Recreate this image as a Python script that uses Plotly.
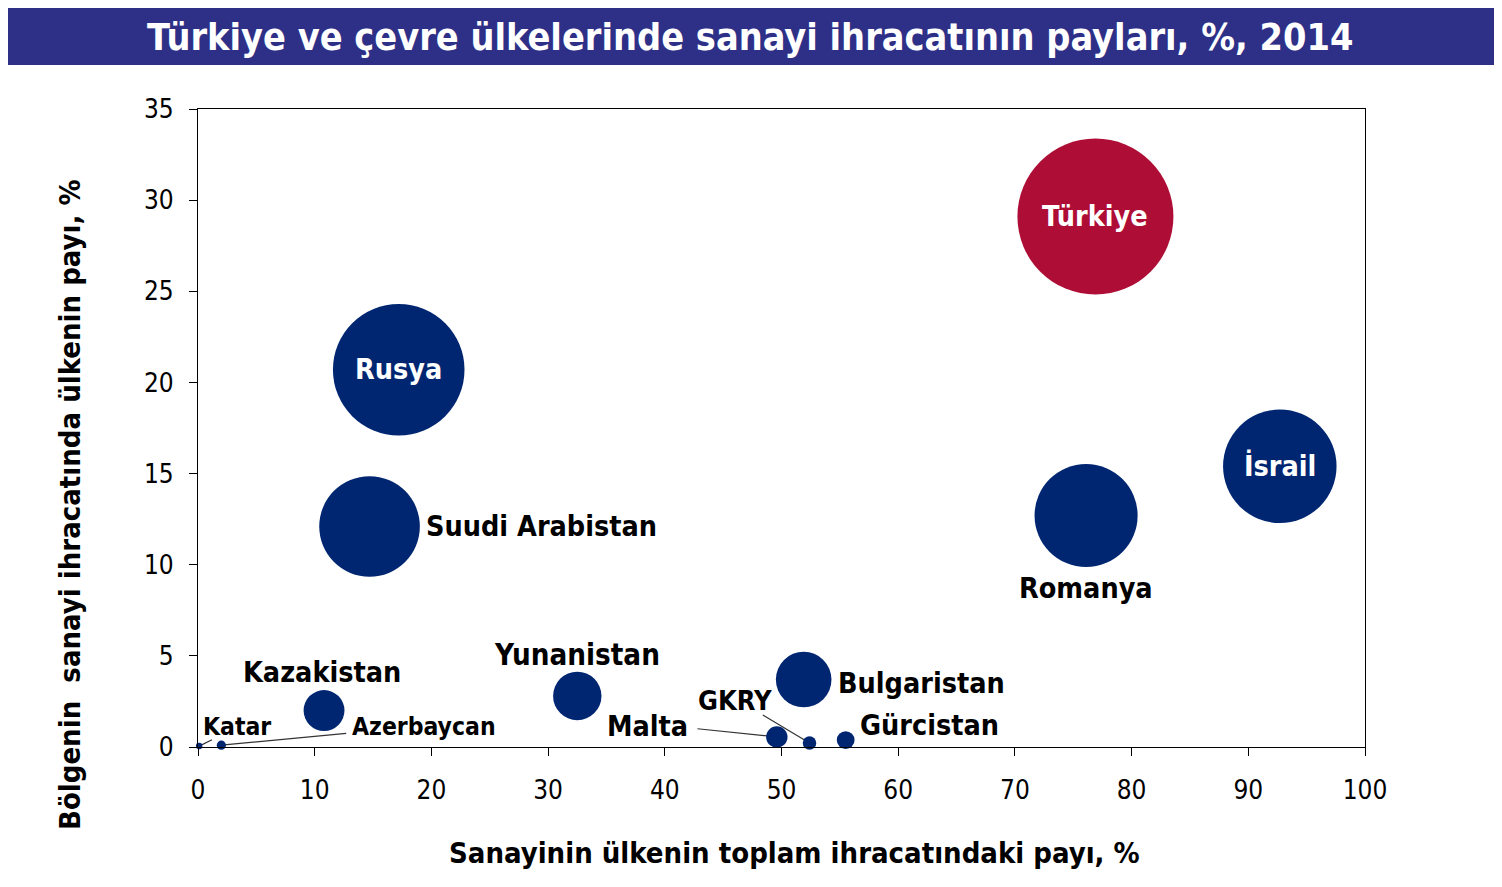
import plotly.graph_objects as go

countries = ["Türkiye", "Rusya", "İsrail", "Romanya", "Suudi Arabistan", "Bulgaristan",
             "Yunanistan", "Kazakistan", "Malta", "GKRY", "Gürcistan", "Azerbaycan", "Katar"]
industry_share_of_exports = [76.9, 17.2, 92.7, 76.1, 14.7, 51.9, 32.5, 10.8, 49.6, 52.4, 55.5, 2.0, 0.1]
regional_share = [29.1, 20.7, 15.4, 12.7, 12.1, 3.7, 2.8, 2.0, 0.55, 0.22, 0.38, 0.10, 0.05]
bubble_size = [29.1, 20.7, 15.4, 12.7, 12.1, 3.7, 2.8, 2.0, 0.55, 0.22, 0.38, 0.10, 0.05]
x_ticks = [0, 10, 20, 30, 40, 50, 60, 70, 80, 90, 100]
y_ticks = [0, 5, 10, 15, 20, 25, 30, 35]

NAVY = "#002672"
RED = "#AE0D36"
FONT = "'DejaVu Sans Condensed', 'DejaVu Sans', sans-serif"

W, H = 1494, 879
ML, MR, MT, MB = 190, 137, 101, 140
PW, PH = W - ML - MR, H - MT - MB


def px_x(px):
    # page pixel -> paper fraction (page has 8px body margin)
    return (px - 8 - ML) / PW


def px_y(py):
    return (H - MB - (py - 8)) / PH


colors = [RED if c == "Türkiye" else NAVY for c in countries]
max_diam = 156
sizeref = 2 * max(bubble_size) / (max_diam ** 2)

fig = go.Figure()
fig.add_trace(go.Scatter(
    x=industry_share_of_exports, y=regional_share, mode="markers",
    marker=dict(size=bubble_size, sizemode="area", sizeref=sizeref, color=colors,
                opacity=1, line=dict(width=0)),
    text=countries, hoverinfo="text", showlegend=False, cliponaxis=False,
))

idx = {c: i for i, c in enumerate(countries)}
labels = [
    ("Türkiye", None, None, "center", "white", 28.5),
    ("Rusya", None, None, "center", "white", 28.5),
    ("İsrail", None, None, "center", "white", 28.5),
    ("Romanya", 76.1, 8.7, "center", "black", 28.5),
    ("Suudi Arabistan", 19.35, 12.1, "left", "black", 28.5),
    ("Yunanistan", 32.5, 5.05, "center", "black", 29.3),
    ("Kazakistan", 10.6, 4.1, "center", "black", 28.5),
    ("Bulgaristan", 54.65, 3.5, "left", "black", 28.5),
    ("Gürcistan", 56.55, 1.2, "left", "black", 28.5),
    ("GKRY", 46.0, 2.55, "center", "black", 27),
    ("Malta", 42.2, 1.15, "right", "black", 28.5),
    ("Katar", 0.25, 1.15, "left", "black", 24.5),
    ("Azerbaycan", 13.0, 1.1, "left", "black", 24.5),
]
for name, lx, ly, xa, col, fs in labels:
    i = idx[name]
    if lx is None:
        lx, ly = industry_share_of_exports[i], regional_share[i]
    fig.add_annotation(x=lx, y=ly, xref="x", yref="y", text=name, showarrow=False,
                       xanchor=xa, yanchor="middle",
                       font=dict(family=FONT, size=fs, color=col, weight="bold"))

leaders = [
    ("Katar", 1.2, 0.4),
    ("Azerbaycan", 12.7, 0.75),
    ("Malta", 42.8, 1.0),
    ("GKRY", 48.4, 1.75),
]
for name, sx, sy in leaders:
    i = idx[name]
    fig.add_shape(type="line", xref="x", yref="y", x0=sx, y0=sy,
                  x1=industry_share_of_exports[i], y1=regional_share[i],
                  line=dict(color="#333333", width=1.2), layer="below")

# title bar
fig.add_shape(type="rect", xref="paper", yref="paper", x0=px_x(0), x1=px_x(1510),
              y0=px_y(65), y1=px_y(5),
              fillcolor="#2E3088", line=dict(width=0), layer="below")
fig.add_annotation(xref="paper", yref="paper", x=px_x(750), y=px_y(37),
                   text="Türkiye ve çevre ülkelerinde sanayi ihracatının payları, %, 2014",
                   showarrow=False, xanchor="center", yanchor="middle",
                   font=dict(family=FONT, size=37.5, color="white", weight="bold"))
fig.add_annotation(xref="paper", yref="paper", x=px_x(795), y=px_y(853),
                   text="Sanayinin ülkenin toplam ihracatındaki payı, %",
                   showarrow=False, xanchor="center", yanchor="middle",
                   font=dict(family=FONT, size=29, color="black", weight="bold"))
fig.add_annotation(xref="paper", yref="paper", x=px_x(70), y=px_y(505),
                   text="Bölgenin  sanayi ihracatında ülkenin payı, %", textangle=-90,
                   showarrow=False, xanchor="center", yanchor="middle",
                   font=dict(family=FONT, size=29, color="black", weight="bold"))

axis_common = dict(showgrid=False, zeroline=False, showline=True, linecolor="black",
                   linewidth=1.3, mirror=True, ticks="outside", ticklen=8,
                   tickcolor="black", tickwidth=1.3,
                   tickfont=dict(family=FONT, size=26, color="black"))
fig.update_xaxes(range=[0, 100], tickvals=x_ticks, ticklabelstandoff=12, **axis_common)
fig.update_yaxes(range=[0, 35], tickvals=y_ticks, ticklabelstandoff=10, **axis_common)

fig.update_layout(width=W, height=H, margin=dict(l=ML, r=MR, t=MT, b=MB),
                  plot_bgcolor="white", paper_bgcolor="white", font=dict(family=FONT))

fig.write_html("out.html")
